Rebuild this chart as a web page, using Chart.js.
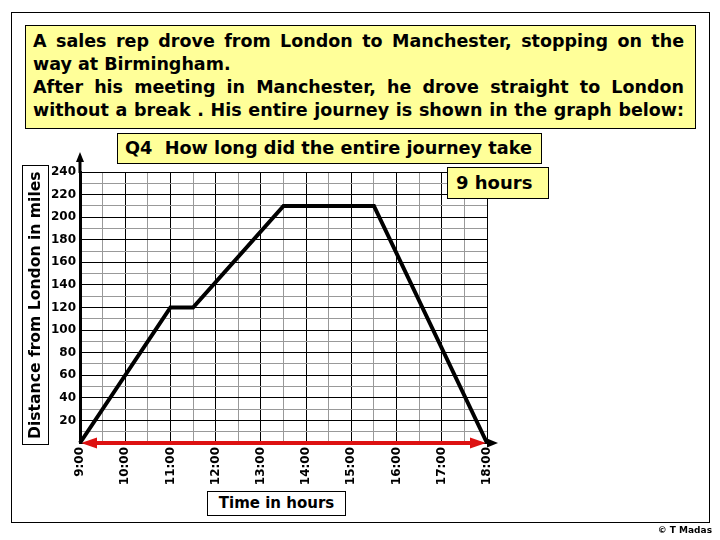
<!DOCTYPE html>
<html>
<head>
<meta charset="utf-8">
<script src="https://cdn.jsdelivr.net/npm/chart.js@4.4.1/dist/chart.umd.min.js"></script>
<style>
  html, body { margin: 0; padding: 0; background: #fff; }
  #wrap { position: relative; width: 720px; height: 540px; overflow: hidden; background: #fff; }
  #frame { position: absolute; left: 11px; top: 12px; width: 697px; height: 509px; border: 1px solid #000; }
  canvas { position: absolute; left: 0; top: 0; }
  .box { position: absolute; box-sizing: border-box; border: 1px solid #000; color: #000; font-weight: bold; }
  .yellow { background: #ffff99; }
  #para { left: 25px; top: 25px; width: 671px; height: 104px; padding: 4px 11px 0 7px;
          font-family: "DejaVu Sans", sans-serif; font-size: 17.5px; line-height: 23px; }
  #para .j { text-align: justify; text-align-last: justify; white-space: nowrap; }
  #para div { white-space: nowrap; }
  #q4 { left: 117px; top: 133px; width: 425px; height: 31px; padding-left: 7px;
        font-family: "DejaVu Sans", sans-serif; font-size: 17.7px; line-height: 29px; white-space: pre; }
  #ans { left: 447px; top: 167px; width: 102px; height: 32px; padding-left: 8px;
         font-family: "DejaVu Sans", sans-serif; font-size: 18px; line-height: 30px; z-index: 3; }
  #ytitle { left: 22px; top: 165px; width: 27px; height: 280px; background: #fff;
            font-family: "DejaVu Sans", sans-serif; font-size: 15.6px;
            writing-mode: vertical-rl; transform: rotate(180deg); text-align: center; line-height: 25px; white-space: nowrap; }
  #xtitle { left: 207px; top: 491px; width: 139px; height: 25px; background: #fff;
            font-family: "DejaVu Sans", sans-serif; font-size: 15px; text-align: center; line-height: 23px; }
  #copy { position: absolute; right: 8px; top: 525px; font-family: "DejaVu Sans", sans-serif;
          font-weight: bold; font-size: 9px; color: #000; }
</style>
</head>
<body>
<div id="wrap">
  <div id="frame"></div>
  <canvas id="c" width="720" height="540"></canvas>
  <div id="para" class="box yellow">
    <div class="j">A sales rep drove from London to Manchester, stopping on the</div>
    <div>way at Birmingham.</div>
    <div class="j">After his meeting in Manchester, he drove straight to London</div>
    <div class="j">without a break . His entire journey is shown in the graph below:</div>
  </div>
  <div id="q4" class="box yellow">Q4  How long did the entire journey take</div>
  <div id="ans" class="box yellow">9 hours</div>
  <div id="ytitle" class="box">Distance from London in miles</div>
  <div id="xtitle" class="box">Time in hours</div>
  <div id="copy">© T Madas</div>
</div>
<script>
// ---- data ----
const hours = [9, 11, 11.5, 13.5, 15.5, 18];
const distances = [0, 120, 120, 210, 210, 0];
const timeLabels = ['9:00','10:00','11:00','12:00','13:00','14:00','15:00','16:00','17:00','18:00'];
const distanceLabels = [20, 40, 60, 80, 100, 120, 140, 160, 180, 200, 220, 240];

// shrink paragraph font if a line would overflow its box
(function fitPara() {
  const para = document.getElementById('para');
  let size = parseFloat(getComputedStyle(para).fontSize);
  const lines = Array.from(para.querySelectorAll('div'));
  let guard = 0;
  while (lines.some(l => l.scrollWidth > l.clientWidth + 0.5) && guard++ < 40) {
    size -= 0.25;
    para.style.fontSize = size + 'px';
  }
})();

const points = hours.map((h, i) => ({ x: h, y: distances[i] }));

function arrowHead(ctx, tipX, tipY, dx, dy, len, half, color) {
  const nx = -dy, ny = dx;
  ctx.save();
  ctx.fillStyle = color;
  ctx.beginPath();
  ctx.moveTo(tipX, tipY);
  ctx.lineTo(tipX - dx * len + nx * half, tipY - dy * len + ny * half);
  ctx.lineTo(tipX - dx * len - nx * half, tipY - dy * len - ny * half);
  ctx.closePath();
  ctx.fill();
  ctx.restore();
}

const axisArrows = {
  id: 'axisArrows',
  beforeDatasetsDraw(chart) {
    const ctx = chart.ctx;
    const xs = chart.scales.x, ys = chart.scales.y;
    const x0 = xs.getPixelForValue(xs.min), x1 = xs.getPixelForValue(xs.max);
    const yb = ys.getPixelForValue(0), yt = ys.getPixelForValue(ys.max);
    ctx.save();
    ctx.strokeStyle = '#000';
    ctx.lineWidth = 3;
    ctx.beginPath();
    ctx.moveTo(x0, yt + 1);
    ctx.lineTo(x0, yt - 12);
    ctx.stroke();
    arrowHead(ctx, x0, yt - 20, 0, -1, 10, 4, '#000');
    ctx.beginPath();
    ctx.moveTo(x1, yb);
    ctx.lineTo(x1 + 4, yb);
    ctx.stroke();
    arrowHead(ctx, x1 + 11, yb, 1, 0, 11, 4.5, '#000');
    ctx.strokeStyle = '#dd1111';
    ctx.lineWidth = 4;
    ctx.beginPath();
    ctx.moveTo(x0 + 10, yb);
    ctx.lineTo(x1 - 10, yb);
    ctx.stroke();
    arrowHead(ctx, x0 + 1, yb, -1, 0, 16, 5.5, '#dd1111');
    arrowHead(ctx, x1 - 1, yb, 1, 0, 16, 5.5, '#dd1111');
    ctx.restore();
  }
};

new Chart(document.getElementById('c'), {
  type: 'line',
  data: {
    datasets: [{
      data: points,
      borderColor: '#000',
      borderWidth: 4,
      pointRadius: 0,
      tension: 0,
      fill: false,
      clip: 6
    }]
  },
  options: {
    responsive: false,
    animation: false,
    layout: { padding: { left: 40, top: 172, right: 233, bottom: 37 } },
    plugins: { legend: { display: false }, title: { display: false }, tooltip: { enabled: false } },
    scales: {
      x: {
        type: 'linear',
        min: 9, max: 18,
        afterFit: (s) => { s.height = 60; },
        ticks: {
          stepSize: 0.5, autoSkip: false, minRotation: 90, maxRotation: 90, padding: 4,
          color: '#000',
          font: { family: 'DejaVu Sans', weight: 'bold', size: 12 },
          callback: (v) => Number.isInteger(v) ? timeLabels[v - 9] : ''
        },
        grid: {
          drawTicks: false,
          lineWidth: 1,
          color: (c) => (c.tick && Number.isInteger(c.tick.value)) ? '#000' : '#999'
        },
        border: { display: false }
      },
      y: {
        min: 0, max: 240,
        afterFit: (s) => { s.width = 40; },
        ticks: {
          stepSize: 10, autoSkip: false, padding: 4, color: '#000',
          font: { family: 'DejaVu Sans', weight: 'bold', size: 12 },
          callback: (v) => distanceLabels.includes(v) ? String(v) : ''
        },
        grid: {
          drawTicks: false,
          lineWidth: 1,
          color: (c) => (c.tick && c.tick.value % 20 === 0) ? '#000' : '#999'
        },
        border: { display: true, color: '#000', width: 3 }
      }
    }
  },
  plugins: [axisArrows]
});
</script>
</body>
</html>
